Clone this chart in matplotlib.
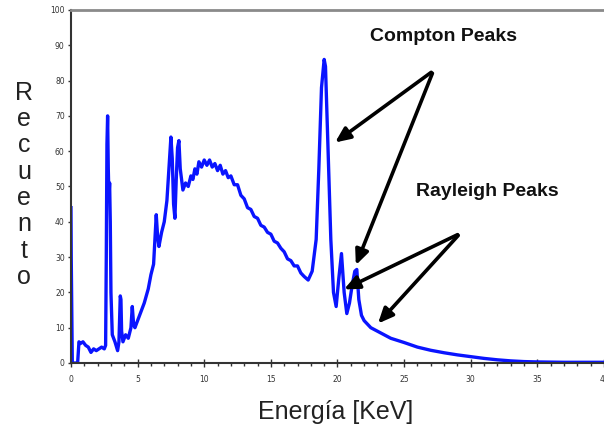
import matplotlib.pyplot as plt
from matplotlib.ticker import MultipleLocator

# espectro (energía en keV, recuento)
energia = [0.0, 0.02, 0.1, 0.5, 0.6, 0.7, 0.9, 1.1, 1.3, 1.5, 1.7, 1.9, 2.1, 2.3, 2.5,
           2.6, 2.65, 2.7, 2.75, 2.8, 2.85, 2.9, 2.95, 3.0, 3.1, 3.3, 3.5, 3.6, 3.7, 3.75,
           3.8, 3.9, 4.1, 4.3, 4.5, 4.6, 4.7, 4.8, 5.0, 5.2, 5.5, 5.8, 6.0, 6.2, 6.4,
           6.5, 6.6, 6.8, 7.0, 7.2, 7.4, 7.5, 7.6, 7.7, 7.8, 7.9, 8.0, 8.1, 8.2, 8.4,
           8.6, 8.8, 9.0, 9.15, 9.3, 9.45, 9.6, 9.8, 10.0, 10.2, 10.4, 10.6, 10.8, 11.0, 11.2,
           11.4, 11.6, 11.8, 12.0, 12.25, 12.5, 12.75, 13.0, 13.25, 13.5, 13.75, 14.0, 14.25, 14.5, 14.75,
           15.0, 15.25, 15.5, 15.75, 16.0, 16.25, 16.5, 16.75, 17.0, 17.25, 17.5, 17.8, 18.1, 18.4, 18.6,
           18.8, 19.0, 19.1, 19.3, 19.5, 19.7, 19.9, 20.1, 20.3, 20.5, 20.7, 20.9, 21.1, 21.3, 21.45,
           21.6, 21.8, 22.0, 22.5, 23.0, 23.5, 24.0, 25.0, 26.0, 27.0, 28.0, 29.0, 30.0, 31.0, 32.0,
           33.0, 34.0, 35.0, 37.0, 40.0]
recuento = [44, 30, 0, 0, 6, 5.5, 6, 5, 4.5, 3, 4, 3.5, 4, 4.5, 4,
            5, 30, 62, 70, 55, 47, 51, 40, 20, 8, 6, 3.5, 6, 19, 18,
            9, 6, 8, 7, 10, 16, 11, 10, 12, 14, 17, 21, 25, 28, 42,
            36, 33, 37, 40, 46, 58, 64, 58, 45, 41, 52, 61, 63, 55, 49,
            51, 50, 53, 52, 55, 53.5, 57, 55.5, 57.5, 56, 57.5, 55.5, 56.5, 54.5, 56,
            53.5, 54.5, 52.5, 53, 50.5, 50.5, 47.5, 46.5, 44, 43.5, 41.5, 41, 39, 38.5, 37,
            36.5, 34.5, 34, 32.5, 31.5, 29.5, 29, 27.5, 27.5, 25.5, 24.5, 23.5, 26, 35, 55,
            78, 86, 84, 60, 35, 20, 16, 24, 31, 20, 14, 17, 22, 26, 26.5,
            18, 13.5, 12, 10, 9, 8, 7, 5.8, 4.5, 3.6, 2.9, 2.3, 1.8, 1.3, 0.9,
            0.6, 0.4, 0.3, 0.2, 0.2]

fig = plt.figure(figsize=(6.04, 4.34), dpi=100)
ax = fig.add_axes([0.1175, 0.1636, 0.8825, 0.8134])

ax.plot(energia, recuento, color="#0a14ff", linewidth=2.4)

ax.set_xlim(0, 40)
ax.set_ylim(0, 100)
ax.xaxis.set_major_locator(MultipleLocator(5))
ax.xaxis.set_minor_locator(MultipleLocator(1))
ax.yaxis.set_major_locator(MultipleLocator(10))
ax.tick_params(axis="x", which="major", direction="inout", length=6, width=1, labelsize=5.5,
               labelcolor="#333333", color="#333333", pad=6)
ax.tick_params(axis="x", which="minor", direction="out", length=2.5, width=1, color="#333333")
ax.tick_params(axis="y", which="major", direction="out", length=2.5, width=1, labelsize=5.5,
               labelcolor="#333333", color="#333333", pad=2)
for s in ["left", "bottom"]:
    ax.spines[s].set_color("#333333")
    ax.spines[s].set_linewidth(1.5)
ax.spines["top"].set_color("#8a8a8a")
ax.spines["top"].set_linewidth(2)
ax.spines["right"].set_visible(False)

fig.text(0.555, 0.05, "Energía [KeV]", ha="center", va="center",
         fontsize=18, family="Liberation Sans", color="#222222")
fig.text(0.04, 0.574, "\n".join("Recuento"), ha="center", va="center",
         fontsize=18, family="Liberation Sans", color="#222222", linespacing=1.12)

fig.text(0.734, 0.917, "Compton Peaks", ha="center", va="center",
         fontsize=14, family="Liberation Sans", weight="bold", color="#111111")
fig.text(0.806, 0.558, "Rayleigh Peaks", ha="center", va="center",
         fontsize=14, family="Liberation Sans", weight="bold", color="#111111")

flecha = dict(arrowstyle="-|>,head_length=0.9,head_width=0.4", color="black", lw=2.6)
for cabeza in [(19.65, 62), (21.3, 27)]:
    ax.annotate("", xy=cabeza, xytext=(27.2, 82.8), arrowprops=flecha)
for cabeza in [(20.3, 20.5), (22.9, 10.6)]:
    ax.annotate("", xy=cabeza, xytext=(29.2, 36.7), arrowprops=flecha)

fig.savefig("out.png", dpi=100)
